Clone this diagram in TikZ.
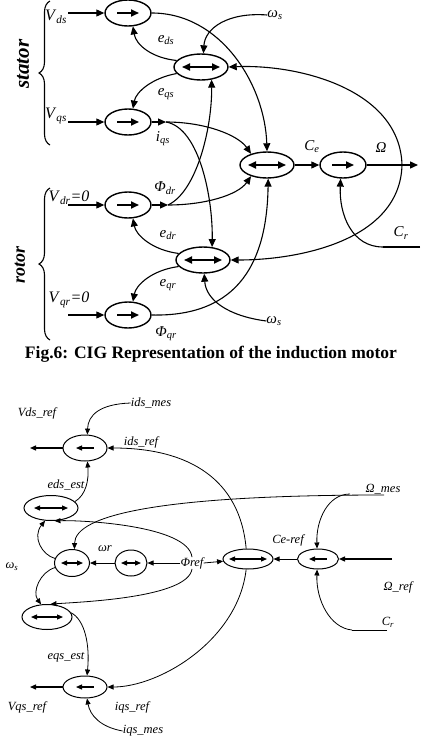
\documentclass[tikz,border=0pt]{standalone}
\usepackage{fontspec}
\setmainfont{Liberation Serif}
\usetikzlibrary{shapes.geometric,arrows.meta,decorations.pathreplacing}

\newcommand{\idx}[2]{\textit{#1}\textsubscript{\textit{#2}}}

\tikzset{
  blk/.style={draw, ellipse, line width=1.4pt, inner sep=0pt, minimum width=46pt, minimum height=26pt},
  inw/.style={line width=1.7pt},
  inarr/.style 2 args={path picture={\draw[#1, inw]
      ([xshift=-#2]path picture bounding box.center) -- ([xshift=#2]path picture bounding box.center);}},
  fwd/.style={blk, inarr={->}{11pt}},
  bwd/.style={blk, inarr={<-}{10pt}},
  both/.style={blk, minimum width=54pt, inarr={<->}{19pt}},
  lab/.style={inner sep=0pt, font=\fontsize{15}{17}\selectfont},
  vlab/.style={inner sep=0pt, font=\fontsize{16}{18}\selectfont},
  blab/.style={inner sep=0pt, font=\fontsize{12.5}{14}\selectfont\itshape},
  conn/.style={line width=1.1pt},
  arr/.style={conn, ->},
}

\begin{document}
\begin{tikzpicture}[x=1pt, y=-1pt, >={Triangle[length=8pt,width=7pt]}]
  \useasboundingbox (0,0) rectangle (423,739);

  % ---- CIG of the motor ----
  \node[fwd]  (bds) at (128,13) {};
  \node[both] (bes) at (201,67) {};
  \node[fwd]  (bqs) at (128,122) {};
  \node[both] (bce) at (267,165) {};
  \node[fwd]  (bom) at (343,165) {};
  \node[fwd]  (bdr) at (128,205) {};
  \node[both] (ber) at (203,260) {};
  \node[fwd]  (bqr) at (128,315) {};

  \node[vlab] (lvds) at (56,17)  {\idx{V}{ds}};
  \node[vlab] (lvqs) at (56,116) {\idx{V}{qs}};
  \node[vlab] (lvdr) at (69,198) {\idx{V}{dr}\textit{=0}};
  \node[vlab] (lvqr) at (69,300) {\idx{V}{qr}\textit{=0}};
  \node[lab] (leds) at (166,40)  {\idx{e}{ds}};
  \node[lab] (leqs) at (166,94)  {\idx{e}{qs}};
  \node[lab] (liqs) at (163,139) {\idx{i}{qs}};
  \node[lab] (lpdr) at (165,188) {\idx{Φ}{dr}};
  \node[lab] (ledr) at (168,235) {\idx{e}{dr}};
  \node[lab] (leqr) at (168,285) {\idx{e}{qr}};
  \node[lab] (lpqr) at (166,334) {\idx{Φ}{qr}};
  \node[lab] (lws1) at (275,15)  {\idx{ω}{s}};
  \node[lab] (lws2) at (274,321) {\idx{ω}{s}};
  \node[lab] (lce)  at (312,147) {\idx{C}{e}};
  \node[lab] (lom)  at (381,148) {\textit{Ω}};
  \node[lab] (lcr)  at (401,233) {\idx{C}{r}};

  \foreach \b/\y in {ds/13, qs/122, dr/205, qr/315} {
    \coordinate (in\b) at (68,\y);
    \draw[arr] (in\b) -- (b\b);
  }
  \coordinate (iq)   at (166,122);
  \coordinate (pdr)  at (168,205);
  \coordinate (ob)   at (402,165);
  \coordinate (oend) at (418,165);
  \coordinate (cr1)  at (420,247);
  \coordinate (cr0)  at (383,247);

  \draw[arr] (bds.east) .. controls (221,13) and (265,85) .. (bce.north);
  \draw[arr] (lws1.west) .. controls (228,12) and (205,28) .. (bes.80);
  \draw[arr] (bes.165) .. controls (152,58) and (136,45) .. (bds.-70);
  \draw[arr] (bes.195) .. controls (152,78) and (136,92) .. (bqs.70);
  \draw[arr] (bqs) -- (iq);
  \draw[arr] (iq) .. controls (205,122) and (238,135) .. (bce.145);
  \draw[arr] (iq) .. controls (200,128) and (213,200) .. (ber.55);
  \draw[arr] (bdr) -- (pdr);
  \draw[arr] (pdr) .. controls (205,205) and (238,195) .. (bce.215);
  \draw[arr] (pdr) .. controls (196,192) and (212,130) .. (bes.-50);
  \draw[arr] (ob) .. controls (400,90) and (300,64) .. (bes.east);
  \draw[arr] (ob) .. controls (400,240) and (300,260) .. (ber.east);
  \draw[arr] (bce) -- (bom);
  \draw[arr, line width=1.4pt] (bom) -- (oend);
  \draw[conn] (cr1) -- (cr0);
  \draw[arr] (cr0) .. controls (352,247) and (339,215) .. (bom.-100);
  \draw[arr] (lws2.west) .. controls (228,316) and (206,300) .. (ber.-85);
  \draw[arr] (ber.165) .. controls (152,250) and (136,235) .. (bdr.-70);
  \draw[arr] (ber.195) .. controls (152,270) and (136,285) .. (bqr.70);
  \draw[arr] (bqr.east) .. controls (240,317) and (267,260) .. (bce.-85);

  % braces
  \draw[conn, decorate, decoration={brace, amplitude=11pt}] (50,145) -- (50,1);
  \draw[conn, decorate, decoration={brace, amplitude=11pt}] (50,340) -- (50,188);
  \node[rotate=90, inner sep=0pt, font=\fontsize{21}{21}\selectfont\bfseries\itshape] (tst) at (23,64) {stator};
  \node[rotate=90, inner sep=0pt, font=\fontsize{18}{18}\selectfont\bfseries\itshape] (trt) at (20,265) {rotor};

  \node[inner sep=0pt, font=\fontsize{17.5}{19}\selectfont\bfseries] (cap) at (211,354)
    {Fig.6: CIG Representation of the induction motor};

  % ---- control structure ----
  \begin{scope}[>={Triangle[length=6pt,width=5pt]}, blk/.append style={line width=1pt},
      inw/.style={line width=1.2pt}, conn/.style={line width=0.8pt}]
    \node[bwd, minimum width=44pt, minimum height=26pt, inarr={<-}{9pt}] (b1) at (85,448) {};
    \node[both, minimum width=54pt, minimum height=25pt, inarr={<->}{17pt}] (b2) at (51,508) {};
    \node[both, minimum width=35pt, minimum height=27pt, inarr={<->}{11pt}] (b3) at (72,563) {};
    \node[both, minimum width=32pt, minimum height=26pt, inarr={<->}{10pt}] (b4) at (131,563) {};
    \node[both, minimum width=50pt, minimum height=25pt, inarr={<->}{16pt}] (b5) at (47,617) {};
    \node[bwd, minimum width=44pt, minimum height=22pt, inarr={<-}{9pt}] (b6) at (85,687) {};
    \node[both, minimum width=50pt, minimum height=20pt, inarr={<->}{19pt}] (bc) at (248,559) {};
    \node[bwd, minimum width=41pt, minimum height=20pt, inarr={<-}{9pt}] (bd) at (318,559) {};

    \node[blab] (lvdsr) at (37,413)  {Vds\_ref};
    \node[blab] (lidsm) at (151,403) {ids\_mes};
    \node[blab] (lidsr) at (141,442) {ids\_ref};
    \node[blab] (ledse) at (66,485)  {eds\_est};
    \node[blab] (lomm)  at (383,489) {Ω\_mes};
    \node[blab] (lcer)  at (288,540) {Ce-ref};
    \node[blab] (lwr)   at (105,549) {ωr};
    \node[blab] (lphi)  at (192,563) {Φref};
    \node[blab] (lws3)  at (12,567)  {ω\textsubscript{s}};
    \node[blab] (lomr)  at (398,587) {Ω\_ref};
    \node[blab] (lcr2)  at (388,622) {C\textsubscript{r}};
    \node[blab] (leqse) at (66,657)  {eqs\_est};
    \node[blab] (lvqsr) at (27,707)  {Vqs\_ref};
    \node[blab] (liqsr) at (132,707) {iqs\_ref};
    \node[blab] (liqsm) at (143,731) {iqs\_mes};

    \coordinate (vdso) at (30,448);
    \coordinate (vqso) at (30,687);
    \coordinate (om0)  at (384,495);
    \coordinate (om2)  at (350,494);
    \coordinate (or0)  at (392,559);
    \coordinate (cr2)  at (387,630);
    \coordinate (cr3)  at (352,630);

    \draw[arr, line width=1.3pt] (b1) -- (vdso);
    \draw[arr] (lidsm.west) .. controls (100,404) and (88,415) .. (b1.80);
    \draw[arr] (bc.100) .. controls (240,480) and (190,448) .. (b1.east);
    \draw[arr] (b2.15) .. controls (86,495) and (89,480) .. (b1.-80);
    \draw[arr] (om0) .. controls (160,495) and (75,515) .. (b3.80);
    \draw[arr] (om2) .. controls (328,494) and (316,520) .. (bd.95);
    \draw[arr, line width=1.3pt] (or0) -- (bd);
    \draw[arr] (bd) -- (bc);
    \draw[conn] (cr2) -- (cr3);
    \draw[arr] (cr3) .. controls (330,628) and (316,600) .. (bd.-95);
    \draw[arr] (lphi.west) -- (b4);
    \draw[arr] (lphi.east) -- (bc);
    \draw[arr] (lphi.north) .. controls (188,525) and (80,520) .. (b2.-75);
    \draw[arr] (lphi.south) .. controls (188,598) and (80,602) .. (b5.75);
    \draw[arr] (b4) -- (b3);
    \draw[arr] (b3.165) .. controls (42,555) and (32,537) .. (b2.-115);
    \draw[arr] (b3.195) .. controls (40,572) and (32,592) .. (b5.115);
    \draw[arr] (b5.10) .. controls (85,620) and (90,645) .. (b6.80);
    \draw[arr, line width=1.3pt] (b6) -- (vqso);
    \draw[arr] (liqsm.west) .. controls (100,727) and (90,715) .. (b6.-80);
    \draw[arr] (bc.-100) .. controls (238,640) and (160,687) .. (b6.east);
  \end{scope}
\end{tikzpicture}
\end{document}
